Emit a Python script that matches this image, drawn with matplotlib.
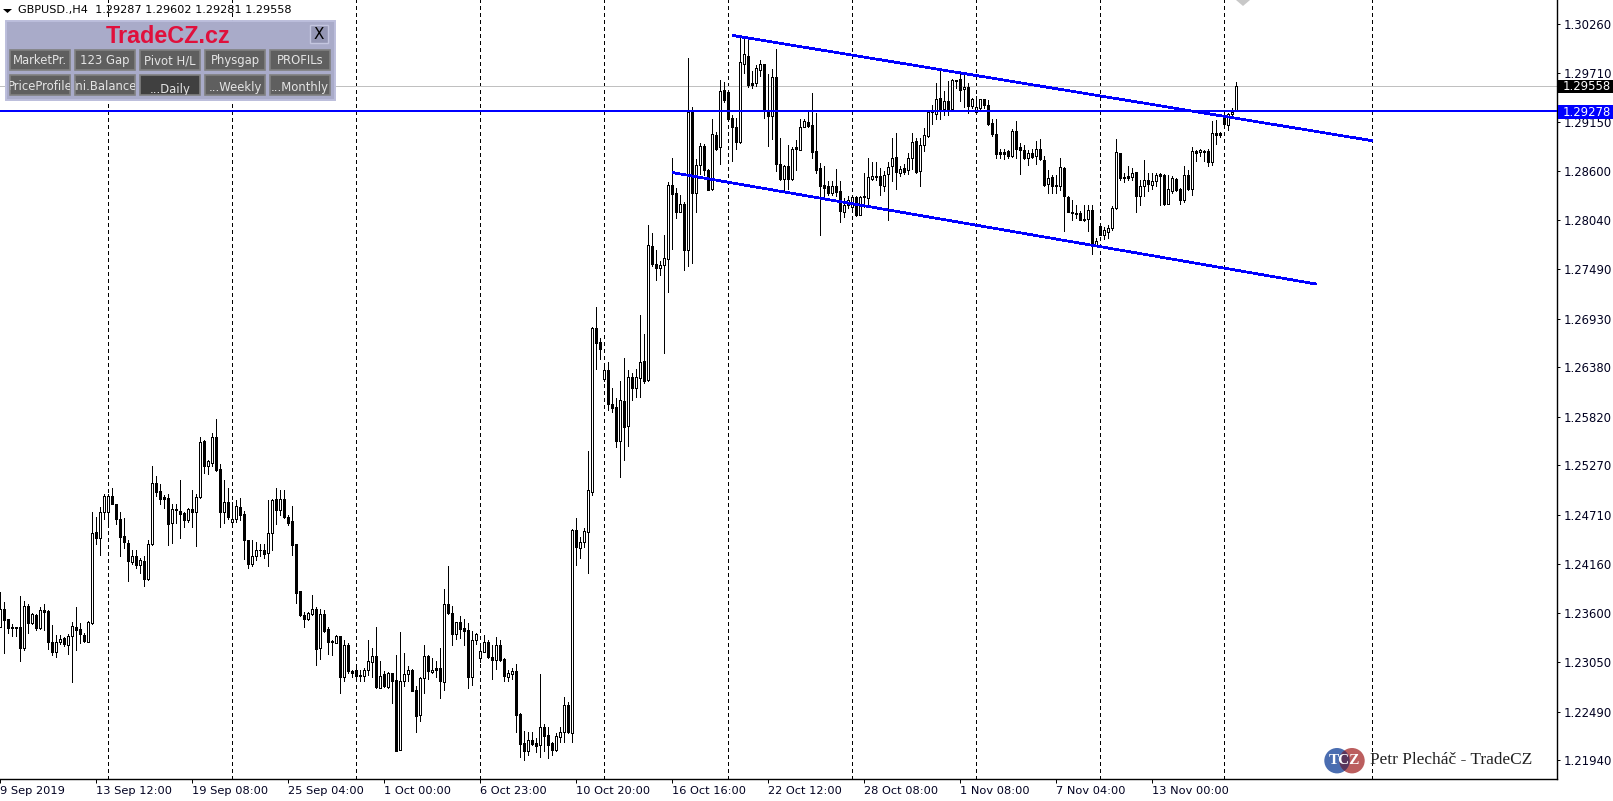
import numpy as np
import matplotlib
matplotlib.use('Agg')
import matplotlib.pyplot as plt
from matplotlib.patches import Rectangle, Circle, Polygon

# GBPUSD H4, prices in 1/10000 of a dollar
highs = [
    12384,12373,12354,12348,12345,12379,12374,12370,12360,12359,
    12367,12370,12364,12347,12335,12335,12333,12337,12350,12367,
    12349,12338,12351,12475,12469,12480,12495,12495,12502,12484,
    12475,12468,12443,12431,12431,12422,12425,12443,12526,12515,
    12506,12494,12495,12484,12483,12511,12474,12479,12499,12495,
    12559,12556,12533,12564,12580,12529,12511,12501,12486,12488,
    12490,12476,12443,12443,12441,12438,12438,12488,12489,12502,
    12499,12499,12471,12481,12438,12385,12362,12362,12381,12367,
    12365,12364,12345,12330,12336,12334,12330,12326,12296,12298,
    12296,12298,12330,12321,12345,12306,12295,12294,12293,12313,
    12339,12315,12300,12297,12278,12288,12324,12313,12310,12306,
    12321,12387,12413,12368,12350,12357,12353,12349,12340,12338,
    12326,12336,12330,12324,12333,12330,12309,12296,12298,12303,
    12247,12227,12226,12226,12219,12291,12235,12232,12215,12225,
    12231,12265,12260,12455,12468,12446,12456,12543,12683,12706,
    12671,12641,12644,12615,12603,12622,12648,12635,12632,12636,
    12697,12676,12799,12790,12770,12758,12787,12847,12874,12840,
    12833,12825,12987,12932,12873,12891,12890,12862,12918,12904,
    12963,12960,12949,12923,12920,13010,13012,13008,12973,12980,
    12985,12981,12969,12975,12998,12897,12867,12889,12887,12895,
    12919,12919,12927,12948,12925,12869,12865,12849,12848,12862,
    12848,12829,12831,12832,12832,12832,12857,12874,12870,12870,
    12863,12860,12870,12897,12903,12865,12868,12880,12903,12897,
    12897,12908,12929,12934,12959,12974,12950,12962,12964,12963,
    12970,12969,12959,12942,12944,12941,12941,12940,12919,12919,
    12885,12885,12884,12907,12916,12891,12889,12883,12885,12894,
    12896,12877,12861,12855,12855,12875,12864,12832,12827,12821,
    12815,12821,12821,12821,12784,12798,12796,12799,12820,12896,
    12880,12857,12865,12863,12859,12850,12872,12858,12858,12858,
    12857,12856,12855,12854,12852,12840,12865,12861,12887,12884,
    12885,12883,12885,12916,12917,12904,12923,12925,12931,12960,
]
body_tops = [
    12365,12365,12354,12345,12345,12344,12368,12368,12359,12358,
    12364,12364,12363,12327,12327,12331,12332,12334,12346,12345,
    12342,12336,12350,12451,12452,12474,12492,12492,12493,12483,
    12466,12447,12439,12425,12425,12420,12419,12438,12507,12507,
    12498,12491,12490,12478,12478,12476,12473,12478,12478,12491,
    12554,12555,12532,12559,12559,12523,12486,12486,12466,12481,
    12480,12472,12443,12425,12431,12432,12432,12451,12488,12489,
    12489,12489,12469,12464,12438,12385,12358,12360,12365,12365,
    12359,12359,12342,12329,12334,12334,12324,12324,12295,12296,
    12290,12296,12306,12312,12312,12289,12291,12293,12292,12285,
    12284,12291,12296,12296,12273,12287,12312,12312,12296,12298,
    12298,12370,12370,12360,12350,12350,12343,12341,12330,12337,
    12317,12327,12328,12311,12324,12324,12308,12292,12295,12295,
    12246,12213,12217,12217,12213,12232,12232,12222,12213,12221,
    12226,12256,12256,12454,12454,12440,12453,12499,12682,12682,
    12667,12635,12635,12596,12593,12601,12600,12627,12627,12627,
    12644,12645,12776,12775,12755,12754,12761,12844,12844,12835,
    12822,12822,12927,12927,12866,12888,12888,12861,12902,12901,
    12950,12951,12949,12920,12910,12983,12992,12990,12959,12976,
    12981,12981,12928,12966,12966,12868,12865,12865,12885,12887,
    12910,12916,12915,12912,12882,12863,12844,12843,12843,12843,
    12837,12821,12827,12830,12830,12830,12832,12853,12854,12854,
    12854,12855,12864,12875,12876,12862,12863,12874,12892,12894,
    12889,12901,12926,12927,12941,12942,12939,12939,12963,12963,
    12964,12955,12955,12941,12932,12941,12941,12934,12914,12902,
    12881,12881,12882,12905,12905,12887,12883,12880,12880,12885,
    12885,12872,12852,12853,12844,12864,12863,12830,12814,12812,
    12812,12806,12816,12816,12781,12798,12793,12795,12818,12881,
    12880,12853,12854,12858,12859,12843,12850,12850,12849,12855,
    12856,12855,12839,12852,12851,12839,12855,12855,12882,12882,
    12883,12882,12882,12903,12903,12903,12922,12924,12927,12956,
]
body_bottoms = [
    12345,12352,12343,12343,12343,12321,12321,12349,12349,12343,
    12343,12362,12327,12316,12316,12327,12325,12324,12334,12341,
    12337,12329,12328,12349,12445,12445,12474,12474,12484,12466,
    12446,12440,12419,12418,12415,12415,12399,12399,12438,12497,
    12489,12489,12461,12462,12477,12472,12465,12465,12474,12474,
    12491,12526,12526,12530,12522,12474,12474,12469,12463,12466,
    12471,12443,12416,12416,12425,12431,12427,12428,12451,12477,
    12477,12469,12462,12437,12383,12358,12354,12353,12359,12320,
    12321,12340,12328,12327,12326,12288,12288,12295,12293,12289,
    12289,12289,12296,12305,12277,12276,12278,12277,12284,12204,
    12206,12283,12291,12272,12244,12245,12287,12295,12294,12296,
    12283,12282,12360,12337,12337,12342,12340,12288,12288,12330,
    12309,12316,12311,12307,12307,12307,12289,12288,12291,12245,
    12212,12204,12204,12212,12210,12211,12221,12211,12205,12205,
    12220,12226,12226,12225,12435,12434,12440,12452,12497,12665,
    12659,12625,12597,12592,12555,12555,12571,12572,12614,12614,
    12626,12623,12624,12755,12750,12750,12754,12760,12834,12814,
    12814,12771,12771,12835,12835,12866,12861,12838,12839,12885,
    12887,12940,12919,12909,12892,12892,12981,12957,12957,12959,
    12974,12928,12922,12922,12868,12851,12851,12851,12851,12885,
    12884,12910,12911,12881,12861,12843,12841,12835,12835,12836,
    12815,12814,12821,12819,12810,12810,12830,12829,12851,12853,
    12844,12843,12856,12865,12859,12858,12859,12861,12874,12859,
    12860,12889,12899,12926,12924,12928,12930,12930,12930,12962,
    12951,12952,12933,12933,12926,12931,12934,12913,12902,12879,
    12879,12879,12877,12877,12885,12883,12874,12874,12876,12877,
    12873,12844,12845,12843,12843,12843,12831,12814,12812,12811,
    12804,12804,12806,12776,12776,12787,12787,12791,12795,12818,
    12852,12852,12852,12853,12832,12832,12843,12845,12844,12849,
    12854,12822,12823,12837,12838,12827,12827,12839,12839,12880,
    12881,12881,12870,12870,12901,12901,12913,12912,12924,12929,
]
lows = [
    12344,12315,12338,12334,12334,12306,12319,12338,12348,12341,
    12342,12341,12320,12313,12311,12325,12323,12314,12282,12318,
    12326,12327,12328,12348,12438,12426,12467,12461,12483,12461,
    12425,12434,12397,12416,12411,12405,12391,12398,12437,12492,
    12483,12479,12437,12439,12462,12445,12458,12463,12458,12436,
    12490,12519,12517,12526,12521,12458,12462,12467,12461,12463,
    12465,12421,12411,12413,12420,12425,12423,12413,12431,12461,
    12471,12468,12460,12426,12372,12357,12345,12352,12358,12301,
    12308,12339,12314,12313,12326,12270,12284,12293,12288,12288,
    12284,12283,12290,12288,12275,12275,12277,12276,12259,12204,
    12205,12278,12283,12272,12226,12238,12270,12286,12293,12288,
    12264,12273,12359,12324,12331,12332,12324,12276,12279,12325,
    12305,12316,12310,12286,12297,12306,12284,12283,12286,12226,
    12198,12194,12200,12211,12203,12198,12204,12197,12200,12204,
    12215,12215,12225,12215,12414,12423,12435,12406,12494,12636,
    12647,12623,12590,12588,12548,12514,12533,12549,12601,12604,
    12604,12620,12622,12752,12737,12742,12654,12723,12772,12807,
    12813,12748,12752,12756,12814,12856,12855,12838,12838,12884,
    12868,12938,12918,12871,12885,12891,12971,12955,12954,12956,
    12967,12920,12888,12896,12860,12850,12838,12839,12850,12861,
    12883,12909,12910,12874,12858,12787,12831,12833,12833,12832,
    12802,12808,12818,12814,12809,12810,12819,12821,12850,12850,
    12833,12837,12804,12848,12839,12854,12856,12856,12862,12857,
    12843,12882,12898,12913,12919,12919,12923,12923,12929,12953,
    12939,12932,12925,12931,12925,12928,12931,12912,12899,12875,
    12874,12873,12875,12876,12874,12856,12873,12867,12875,12868,
    12872,12843,12835,12835,12835,12838,12792,12813,12804,12807,
    12804,12803,12792,12766,12775,12787,12783,12784,12793,12817,
    12850,12847,12850,12850,12813,12821,12832,12837,12839,12843,
    12821,12821,12822,12835,12837,12823,12825,12838,12833,12871,
    12877,12871,12865,12867,12890,12898,12912,12906,12923,12928,
]
# w = close above open (hollow), b = close below open (filled)
direction = (
    "wbbbbbwbwb" "wbbbwwbwwb" "bbwwbwwwbb" "bbbwbwbwwb" "bbbwbbbwbw" "wbwwbbwbww"
    "bbbwwbbwwb" "wbbbbbbwwb" "wbbbwbwbbb" "bwwwbwbwbb" "wwwbbwwbwb" "bwbbwbbbww"
    "wwbbwbbwwb" "bbwbbwbbbw" "wwbwbwwwwb" "bwbbbwbwbw" "wbwbbwwwbb" "wbwbwwbbwb"
    "wbbbbwwbbw" "wbbwbbwbwb" "wwbbbbbbwb" "bwwwbwbwwb" "bwwwbwbwwb" "wwwbwbwbwb"
    "bwbwwwbbbb" "bbbwbbbwbw" "bbwbbwbbbb" "bbwbwbwwww" "bbbwbwwbww" "bbwwbbwbwb"
    "wbbwbbbwww"
)

# chart objects
period_breaks = [27, 58, 89, 120, 151, 182, 213, 244, 275, 306, 343]
upper_line_bars = [183, 343]
upper_line_prices = [1.3013, 1.2894]
lower_line_bars = [168, 329]
lower_line_prices = [1.2858, 1.2732]
level_price = 1.29278
bid_price = 1.29558

y_ticks = [1.30260, 1.29710, 1.29150, 1.28600, 1.28040, 1.27490, 1.26930, 1.26380,
           1.25820, 1.25270, 1.24710, 1.24160, 1.23600, 1.23050, 1.22490, 1.21940]
x_ticks = [0, 24, 48, 72, 96, 120, 144, 168, 192, 216, 240, 264, 288]
x_labels = ['9 Sep 2019', '13 Sep 12:00', '19 Sep 08:00', '25 Sep 04:00', '1 Oct 00:00',
            '6 Oct 23:00', '10 Oct 20:00', '16 Oct 16:00', '22 Oct 12:00', '28 Oct 08:00',
            '1 Nov 08:00', '7 Nov 04:00', '13 Nov 00:00']

row1_buttons = ['MarketPr.', '123 Gap', 'Pivot H/L', 'Physgap', 'PROFILs']
row2_buttons = ['PriceProfile', 'Ini.Balance', '...Daily', '...Weekly', '...Monthly']

plt.rcParams['font.family'] = ['DejaVu Sans']
plt.rcParams['lines.scale_dashes'] = False

W, H = 1613, 801
PX = 0.72  # one pixel in points at dpi 100
fig = plt.figure(figsize=(W / 100, H / 100), dpi=100, facecolor='white')
ax = fig.add_axes([0, (H - 778.5) / H, 1556.5 / W, 778.5 / H])

xs = np.arange(len(highs))
high = np.array(highs) / 10000
low = np.array(lows) / 10000
top = np.array(body_tops) / 10000
bottom = np.array(body_bottoms) / 10000
faces = ['white' if d == 'w' else 'black' for d in direction]

for k in period_breaks:
    ax.axvline(k, color='black', lw=PX, dashes=(2.2, 2.2), zorder=1, antialiased=False)
ax.axhline(bid_price, color='#c0c0c0', lw=PX, zorder=1, antialiased=False)

ax.vlines(xs, low, high, colors='black', lw=PX, zorder=2, antialiased=False)
ax.bar(xs, top - bottom, width=0.5, bottom=bottom, color=faces, edgecolor='black',
       linewidth=PX, zorder=3, antialiased=False)

ax.axhline(level_price, color='#0000ff', lw=2 * PX, zorder=4, antialiased=False)
ax.plot(upper_line_bars, upper_line_prices, color='#0000ff', lw=1.7 * PX, zorder=4,
        antialiased=False, solid_capstyle='butt')
ax.plot(lower_line_bars, lower_line_prices, color='#0000ff', lw=1.7 * PX, zorder=4,
        antialiased=False, solid_capstyle='butt')

ax.set_xlim(-0.08, 389.04)
ax.set_ylim(1.21733, 1.3053)
ax.spines['top'].set_visible(False)
ax.spines['left'].set_visible(False)
ax.spines['right'].set_linewidth(PX * 1.4)
ax.spines['bottom'].set_linewidth(PX * 1.4)

ax.yaxis.tick_right()
ax.set_yticks(y_ticks)
ax.set_yticklabels([f'{v:.5f}' for v in y_ticks])
ax.tick_params(axis='y', length=2.5, width=PX, pad=2.5, labelsize=8.4, labelcolor='#000020')
ax.set_xticks(x_ticks)
ax.set_xticklabels(x_labels, ha='left')
ax.tick_params(axis='x', length=3, width=PX, pad=2.5, labelsize=8.2, labelcolor='#000020')

# overlay in screen pixels for the terminal furniture
ov = fig.add_axes([0, 0, 1, 1], facecolor='none')
ov.set_xlim(0, W)
ov.set_ylim(H, 0)
ov.axis('off')

# header
ov.add_patch(Polygon([(3, 9), (12, 9), (7.5, 13)], color='black', lw=0))
ov.text(18, 9.8, 'GBPUSD.,H4  1.29287 1.29602 1.29281 1.29558', fontsize=8.1, color='black',
        va='center', ha='left', zorder=9)
ov.add_patch(Polygon([(1236, 0), (1250, 0), (1243, 6)], color='#c8c8c8', lw=0))

# price labels on the scale
ov.add_patch(Rectangle((1558, 80), 55, 13, color='black', lw=0, zorder=8))
ov.text(1563, 86.5, f'{bid_price:.5f}', color='white', fontsize=8.4, va='center', zorder=9)
ov.add_patch(Rectangle((1558, 105), 55, 14, color='#0000ff', lw=0, zorder=8))
ov.text(1563, 112, f'{level_price:.5f}', color='white', fontsize=8.4, va='center', zorder=9)

# TradeCZ panel
ov.add_patch(Rectangle((5.5, 20.5), 329, 79, facecolor='#a9abc9', edgecolor='#bcbedc', lw=1.4, zorder=5))
ov.text(168, 36.5, 'TradeCZ.cz', color='#e0103c', fontsize=16.8, fontweight='bold',
        family='Liberation Sans', ha='center', va='center', zorder=6)
ov.add_patch(Rectangle((310, 25), 18, 18, facecolor='#9496b4', edgecolor='#c4c6e0', lw=1, zorder=6))
ov.text(319, 34.5, 'X', color='black', fontsize=11, ha='center', va='center', zorder=7)


def draw_button(x, y, label, text_dy, pressed=False):
    face = '#404040' if pressed else '#5f5f5f'
    rect = Rectangle((x, y), 60, 20, facecolor=face, edgecolor='#808080', lw=1.2, zorder=6)
    ov.add_patch(rect)
    t = ov.text(x + 30, y + text_dy, label, color='#e4e4e4', fontsize=8.4,
                ha='center', va='center', zorder=7, clip_on=True)
    t.set_clip_path(rect)


for i, name in enumerate(row1_buttons):
    draw_button(10 + 65 * i, 50, name, 10.5)
for i, name in enumerate(row2_buttons):
    pressed = name == '...Daily'
    draw_button(10 + 65 * i, 75, name, 14 if pressed else 12, pressed=pressed)

# logo
ov.add_patch(Circle((1337, 760.7), 12.7, color='#4a6db0', lw=0, zorder=5))
ov.add_patch(Circle((1352, 760.7), 12.7, color='#b85555', lw=0, alpha=0.95, zorder=5))
ov.add_patch(Circle((1337, 760.7), 12.7, color='#101a60', lw=0, alpha=0.55, zorder=5,
                    clip_path=Circle((1352, 760.7), 12.7, transform=ov.transData)))
ov.text(1344.5, 761, 'TCZ', color='white', fontsize=11, fontweight='bold',
        family='Liberation Serif', ha='center', va='center', zorder=6)
ov.text(1370, 760.5, 'Petr Plecháč - TradeCZ', color='#202020', fontsize=12.4,
        family='Liberation Serif', ha='left', va='center', zorder=6)

fig.savefig('out.png', dpi=100)
